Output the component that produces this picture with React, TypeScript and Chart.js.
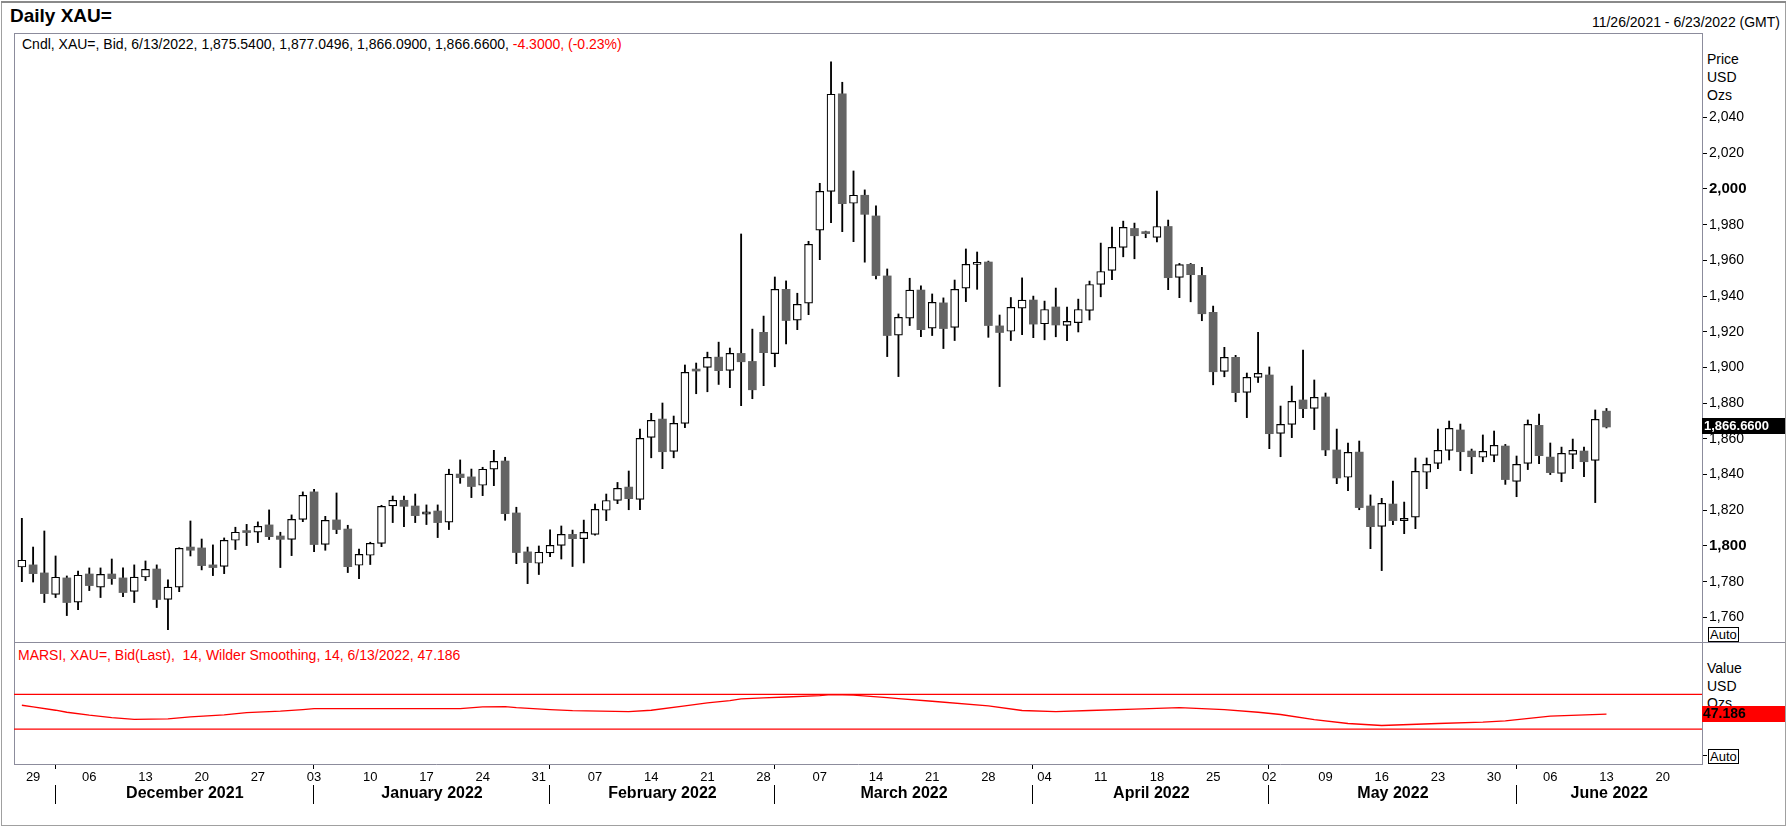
import React, { useEffect, useRef } from 'react';
import { Chart, registerables } from 'chart.js';

Chart.register(...registerables);

const FONT = "'Liberation Sans', Arial, sans-serif";
const AXIS_GRAY = '#8c8c9c';
const UP_FILL = '#ffffff';
const DOWN_FILL = '#646464';

// Daily XAU= candles, trading-day index 0 = 11/26/2021 ... 141 = 6/13/2022
const opens = [
  1788.2, 1789.4, 1784.9, 1772.9, 1782.1, 1768.5, 1784.3, 1776.9, 1784.3, 1782.1,
  1774.6, 1782.6, 1787.1, 1770.1, 1776.9, 1799.4, 1798.9, 1789.4, 1788.6, 1803.2,
  1808.2, 1807.7, 1811.8, 1805.6, 1803.7, 1814.9, 1830.3, 1800.9, 1814.6, 1809.5,
  1789.2, 1794.8, 1801.5, 1822.4, 1825.6, 1822.4, 1817.8, 1819.6, 1813.3, 1840.3,
  1838.7, 1834.0, 1843.0, 1847.6, 1818.5, 1796.7, 1790.3, 1796.1, 1800.3, 1806.5,
  1804.1, 1806.5, 1820.0, 1825.5, 1833.0, 1826.1, 1860.8, 1871.1, 1853.0, 1868.7,
  1898.2, 1900.1, 1905.8, 1898.4, 1907.9, 1903.4, 1919.7, 1907.8, 1943.8, 1926.5,
  1936.0, 1976.9, 1998.7, 2053.3, 1992.0, 1996.5, 1984.9, 1951.3, 1918.1, 1927.6,
  1943.4, 1922.0, 1936.2, 1922.5, 1944.4, 1957.8, 1959.1, 1923.3, 1920.3, 1933.2,
  1937.8, 1924.5, 1933.9, 1923.6, 1925.1, 1932.0, 1946.5, 1954.4, 1967.3, 1977.9,
  1975.4, 1972.9, 1979.0, 1950.5, 1957.8, 1951.6, 1930.9, 1897.8, 1905.7, 1886.0,
  1894.5, 1895.8, 1863.1, 1868.1, 1881.8, 1877.1, 1883.5, 1853.8, 1838.5, 1852.6,
  1822.4, 1811.0, 1823.5, 1814.2, 1816.1, 1841.3, 1846.3, 1853.6, 1865.0, 1853.2,
  1849.7, 1850.8, 1856.0, 1836.2, 1846.3, 1867.6, 1849.8, 1840.7, 1851.3, 1853.2,
  1848.0, 1875.54,
];
const highs = [
  1815.5, 1799.4, 1808.4, 1794.4, 1783.2, 1786.0, 1787.7, 1787.7, 1792.7, 1787.7,
  1789.4, 1791.6, 1789.4, 1781.0, 1799.0, 1814.0, 1803.9, 1800.6, 1804.5, 1810.5,
  1812.1, 1813.5, 1820.2, 1807.7, 1817.4, 1830.3, 1831.8, 1816.6, 1829.7, 1811.6,
  1798.3, 1802.1, 1822.8, 1828.0, 1828.0, 1829.1, 1823.0, 1823.0, 1843.0, 1848.2,
  1843.1, 1844.1, 1853.6, 1849.7, 1821.7, 1799.4, 1800.0, 1809.0, 1811.2, 1808.9,
  1814.5, 1823.5, 1829.1, 1835.6, 1842.0, 1865.5, 1874.3, 1880.1, 1872.8, 1901.4,
  1902.5, 1908.6, 1914.2, 1910.9, 1974.8, 1921.5, 1928.8, 1950.7, 1948.5, 1941.6,
  1970.7, 2003.2, 2071.2, 2059.8, 2010.1, 1999.5, 1990.5, 1955.2, 1930.0, 1950.0,
  1945.7, 1941.2, 1939.0, 1949.0, 1966.4, 1964.7, 1959.6, 1929.4, 1939.2, 1950.2,
  1940.0, 1937.2, 1944.5, 1933.9, 1938.3, 1948.4, 1969.7, 1978.7, 1982.0, 1980.9,
  1976.4, 1998.8, 1982.6, 1958.3, 1958.3, 1956.1, 1934.4, 1911.3, 1906.8, 1896.9,
  1919.7, 1900.3, 1878.4, 1889.6, 1909.8, 1893.0, 1885.7, 1865.5, 1857.7, 1858.8,
  1828.6, 1826.7, 1836.4, 1824.6, 1849.3, 1849.3, 1865.5, 1870.0, 1868.3, 1854.3,
  1862.2, 1864.4, 1856.9, 1850.4, 1870.6, 1873.9, 1857.7, 1855.4, 1859.9, 1855.4,
  1876.2, 1877.0496,
];
const lows = [
  1780.0, 1779.8, 1768.3, 1771.1, 1761.0, 1764.3, 1775.0, 1771.1, 1778.5, 1771.6,
  1768.3, 1780.6, 1765.5, 1753.1, 1774.4, 1794.4, 1786.6, 1783.4, 1784.5, 1798.0,
  1800.2, 1801.9, 1803.6, 1787.9, 1794.6, 1813.6, 1796.8, 1797.6, 1806.9, 1785.1,
  1781.7, 1789.6, 1799.6, 1813.1, 1810.8, 1813.1, 1812.0, 1804.7, 1809.2, 1835.1,
  1827.1, 1828.2, 1833.8, 1814.4, 1790.1, 1778.9, 1784.0, 1794.0, 1792.7, 1788.5,
  1790.5, 1806.0, 1814.2, 1823.7, 1820.3, 1820.3, 1849.4, 1843.3, 1849.4, 1866.3,
  1885.3, 1886.4, 1890.5, 1888.7, 1878.6, 1882.5, 1889.8, 1900.4, 1913.2, 1921.2,
  1929.6, 1960.4, 1981.2, 1976.1, 1970.5, 1959.0, 1949.6, 1906.1, 1894.9, 1923.5,
  1917.3, 1917.9, 1910.6, 1915.1, 1936.9, 1943.8, 1916.9, 1889.3, 1915.1, 1918.4,
  1916.7, 1915.5, 1917.2, 1915.0, 1919.9, 1926.6, 1939.6, 1949.2, 1962.0, 1960.9,
  1972.7, 1970.4, 1943.6, 1939.1, 1936.8, 1926.2, 1890.3, 1894.8, 1880.8, 1871.9,
  1891.6, 1854.5, 1850.0, 1860.7, 1871.9, 1865.2, 1850.6, 1834.9, 1831.0, 1820.3,
  1798.5, 1786.2, 1811.9, 1806.9, 1809.7, 1832.1, 1843.3, 1848.2, 1842.2, 1840.5,
  1847.2, 1847.2, 1834.5, 1827.6, 1842.8, 1846.1, 1840.0, 1836.0, 1843.3, 1838.8,
  1824.3, 1866.09,
];
const closes = [
  1792.0, 1784.5, 1773.3, 1782.5, 1768.3, 1783.6, 1777.8, 1784.1, 1781.7, 1773.9,
  1782.6, 1786.9, 1770.0, 1776.9, 1798.7, 1797.6, 1789.0, 1787.9, 1803.2, 1807.7,
  1807.5, 1811.0, 1805.2, 1803.7, 1814.9, 1828.4, 1800.8, 1814.4, 1809.2, 1788.4,
  1795.3, 1801.5, 1822.2, 1825.6, 1822.2, 1817.0, 1819.1, 1813.1, 1840.3, 1838.3,
  1833.3, 1843.0, 1847.4, 1818.1, 1796.3, 1790.7, 1796.5, 1800.4, 1806.5, 1804.1,
  1807.6, 1820.5, 1825.5, 1832.3, 1826.5, 1860.3, 1870.4, 1852.8, 1868.7, 1897.3,
  1898.0, 1905.7, 1898.2, 1907.9, 1903.2, 1887.5, 1908.3, 1943.8, 1926.3, 1935.4,
  1969.0, 1998.7, 2053.1, 1991.8, 1996.5, 1985.8, 1951.5, 1917.9, 1928.1, 1943.3,
  1921.2, 1936.5, 1921.8, 1943.8, 1957.8, 1958.2, 1923.5, 1919.6, 1933.7, 1937.8,
  1924.3, 1932.5, 1923.8, 1925.8, 1932.5, 1946.5, 1953.8, 1967.3, 1978.5, 1973.8,
  1975.0, 1979.0, 1950.3, 1957.6, 1952.0, 1930.1, 1897.6, 1905.7, 1885.9, 1894.5,
  1896.7, 1862.9, 1868.1, 1881.0, 1876.9, 1883.3, 1853.8, 1838.1, 1852.5, 1821.5,
  1810.8, 1823.9, 1814.2, 1815.5, 1841.8, 1845.7, 1853.6, 1865.9, 1852.8, 1850.0,
  1853.0, 1856.4, 1837.2, 1845.7, 1868.1, 1850.6, 1841.1, 1851.9, 1853.6, 1847.2,
  1870.96, 1866.66,
];

// MARSI(14, Wilder, 14): trading-day index -> value
const rsiIdx = [
  0, 1, 3, 4, 6, 8, 10, 13, 15, 18, 20, 23, 25, 26, 34, 39, 41, 43, 44, 47,
  49, 54, 56, 59, 61, 63, 64, 66, 68, 71, 72, 74, 77, 78, 81, 86, 89, 92, 95, 99,
  103, 107, 110, 112, 115, 118, 121, 126, 130, 132, 136, 141,
];
const rsiValues = [
  57.4, 55.5, 51.7, 49.4, 46.0, 43.3, 41.2, 41.8, 44.1, 46.4, 49.0, 50.6, 52.5, 53.6, 53.6, 53.6, 55.5, 55.8, 54.7, 52.5,
  51.3, 50.2, 51.7, 56.6, 60.1, 62.7, 64.7, 65.8, 66.9, 68.4, 69.6, 69.1, 66.2, 65.0, 62.0, 56.6, 51.4, 50.2, 51.4, 52.9,
  54.8, 52.5, 49.4, 46.8, 41.0, 36.5, 34.2, 36.5, 38.0, 39.5, 44.9, 47.186,
];
const rsiLevels = [70, 30];

const yTicks = [1760, 1780, 1800, 1820, 1840, 1860, 1880, 1900, 1920, 1940, 1960, 1980, 2000, 2020, 2040];
const weekTickIdx = [
  1, 6, 11, 16, 21, 26, 31, 36, 41, 46, 51, 56, 61, 66, 71, 76, 81, 86, 91, 96,
  101, 106, 111, 116, 121, 126, 131, 136, 141, 146,
];
const weekTickLabels = [
  '29', '06', '13', '20', '27', '03', '10', '17', '24', '31', '07', '14', '21', '28', '07', '14', '21', '28', '04', '11',
  '18', '25', '02', '09', '16', '23', '30', '06', '13', '20',
];
const monthStartIdx = [3, 26, 47, 67, 90, 111, 133];
const monthLabels = ['December 2021', 'January 2022', 'February 2022', 'March 2022', 'April 2022', 'May 2022', 'June 2022'];

const X_MIN = -0.7;
const X_MAX = 149.5;
const PRICE_MIN = 1746.2;
const PRICE_MAX = 2087.4;
const RSI_MIN = -10;
const RSI_MAX = 130;

function fmt(v: number, d = 0) {
  const s = v.toFixed(d);
  const parts = s.split('.');
  const i = parts[0].replace(/\B(?=(\d{3})+(?!\d))/g, ',');
  return parts[1] ? i + '.' + parts[1] : i;
}

const lastPricePlugin = {
  id: 'lastPrice',
  afterDraw(chart: any) {
    const { ctx, chartArea } = chart;
    const last = closes[closes.length - 1];
    const y = chart.scales.y.getPixelForValue(last);
    ctx.save();
    ctx.fillStyle = '#000000';
    ctx.fillRect(chartArea.right, Math.round(y) - 9, chart.width - 3 - chartArea.right, 16);
    ctx.fillStyle = '#ffffff';
    ctx.font = `bold 13px ${FONT}`;
    ctx.textAlign = 'left';
    ctx.textBaseline = 'middle';
    ctx.fillText(fmt(last, 4), chartArea.right + 2, Math.round(y) - 1);
    ctx.restore();
  },
};

const rsiDecorPlugin = {
  id: 'rsiDecor',
  afterDraw(chart: any) {
    const { ctx, chartArea } = chart;
    const xs = chart.scales.x;
    const ys = chart.scales.y;
    ctx.save();
    // last value box
    const last = rsiValues[rsiValues.length - 1];
    const y = ys.getPixelForValue(last);
    ctx.fillStyle = '#ff0000';
    ctx.fillRect(chartArea.right, Math.round(y) - 8, chart.width - 3 - chartArea.right, 16);
    ctx.fillStyle = '#000000';
    ctx.font = `bold 14px ${FONT}`;
    ctx.textAlign = 'left';
    ctx.textBaseline = 'middle';
    ctx.fillText(last.toFixed(3), chartArea.right + 1, Math.round(y) + 0.5);
    // month separators and labels
    ctx.strokeStyle = '#000000';
    ctx.lineWidth = 1;
    ctx.font = `bold 16px ${FONT}`;
    ctx.textAlign = 'center';
    ctx.textBaseline = 'middle';
    const bottom = chartArea.bottom;
    for (let i = 0; i < monthStartIdx.length; i++) {
      const px = Math.round(xs.getPixelForValue(monthStartIdx[i])) - 0.5;
      ctx.beginPath();
      ctx.moveTo(px, bottom + 1);
      ctx.lineTo(px, bottom + 5);
      ctx.moveTo(px, bottom + 21);
      ctx.lineTo(px, bottom + 40);
      ctx.stroke();
      const endIdx = i + 1 < monthStartIdx.length ? monthStartIdx[i + 1] : X_MAX;
      const cx = xs.getPixelForValue((monthStartIdx[i] + endIdx) / 2);
      ctx.fillStyle = '#000000';
      ctx.fillText(monthLabels[i], cx, bottom + 30);
    }
    ctx.restore();
  },
};

function Txt(props: { left?: number; right?: number; cy: number; children: any; style?: any }) {
  const { left, right, cy, children, style } = props;
  return (
    <div
      style={{
        position: 'absolute',
        left,
        right,
        top: cy - 8,
        height: 16,
        lineHeight: '16px',
        fontFamily: FONT,
        fontSize: 14,
        color: '#000',
        whiteSpace: 'nowrap',
        ...style,
      }}
    >
      {children}
    </div>
  );
}

export default function App() {
  const priceRef = useRef<HTMLCanvasElement>(null);
  const rsiRef = useRef<HTMLCanvasElement>(null);

  useEffect(() => {
    const up = closes.map((c, i) => c >= opens[i]);
    const priceChart = new Chart(priceRef.current as HTMLCanvasElement, {
      type: 'bar',
      data: {
        datasets: [
          {
            label: 'body',
            data: closes.map((c, i) => ({ x: i, y: [opens[i], c] })) as any,
            backgroundColor: up.map((u) => (u ? UP_FILL : DOWN_FILL)),
            borderColor: up.map((u) => (u ? '#000000' : DOWN_FILL)),
            borderWidth: up.map((u) => (u ? 1.2 : 0)),
            borderSkipped: false,
            barThickness: 8,
            grouped: false,
            minBarLength: 2,
          } as any,
          {
            label: 'wick',
            data: highs.map((h, i) => ({ x: i, y: [lows[i], h] })) as any,
            backgroundColor: '#000000',
            borderWidth: 0,
            barThickness: 1.2,
            grouped: false,
            minBarLength: 1,
          } as any,
        ],
      },
      options: {
        animation: false,
        responsive: false,
        maintainAspectRatio: false,
        events: [],
        layout: { padding: { left: 14, top: 33, right: 3, bottom: 8 } },
        plugins: { legend: { display: false }, tooltip: { enabled: false } },
        scales: {
          x: { type: 'linear', min: X_MIN, max: X_MAX, display: false, offset: false },
          y: {
            type: 'linear',
            position: 'right',
            min: PRICE_MIN,
            max: PRICE_MAX,
            afterBuildTicks: (s: any) => {
              s.ticks = yTicks.map((v) => ({ value: v }));
            },
            afterFit: (s: any) => {
              s.width = 83;
              s.paddingTop = 0;
              s.paddingBottom = 0;
            },
            ticks: {
              color: '#000',
              padding: 2,
              callback: (v: any) => fmt(Number(v)),
              font: (c: any) => {
                const major = c.tick && c.tick.value % 200 === 0;
                return { family: FONT, size: major ? 15 : 14, weight: major ? 'bold' : 'normal' };
              },
            },
            grid: { drawOnChartArea: false, drawTicks: true, tickLength: 5, color: '#000', lineWidth: 1 },
            border: { display: true, color: AXIS_GRAY, width: 1 },
          },
        },
      } as any,
      plugins: [lastPricePlugin],
    });

    const levelSets = rsiLevels.map((lv) => ({
      label: 'level' + lv,
      data: [
        { x: X_MIN, y: lv },
        { x: X_MAX, y: lv },
      ],
      borderColor: '#ff0000',
      borderWidth: 1.3,
      pointRadius: 0,
      fill: false,
    }));

    const rsiChart = new Chart(rsiRef.current as HTMLCanvasElement, {
      type: 'line',
      data: {
        datasets: [
          {
            label: 'MARSI',
            data: rsiIdx.map((x, i) => ({ x, y: rsiValues[i] })),
            borderColor: '#ff0000',
            borderWidth: 1.3,
            pointRadius: 0,
            tension: 0,
            fill: false,
          },
          ...levelSets,
        ],
      },
      options: {
        animation: false,
        responsive: false,
        maintainAspectRatio: false,
        events: [],
        layout: { padding: { left: 14, top: 0, right: 3, bottom: 0 } },
        plugins: { legend: { display: false }, tooltip: { enabled: false } },
        scales: {
          x: {
            type: 'linear',
            position: 'bottom',
            min: X_MIN,
            max: X_MAX,
            afterBuildTicks: (s: any) => {
              s.ticks = weekTickIdx.map((v) => ({ value: v }));
            },
            afterFit: (s: any) => {
              s.height = 63;
              s.paddingLeft = 0;
              s.paddingRight = 0;
            },
            ticks: {
              autoSkip: false,
              maxRotation: 0,
              minRotation: 0,
              padding: 6,
              color: '#000',
              font: { family: FONT, size: 13 },
              callback: (_v: any, i: number) => weekTickLabels[i],
            },
            grid: { display: false, drawOnChartArea: false, drawTicks: false },
            border: { display: true, color: AXIS_GRAY, width: 1 },
          },
          y: {
            type: 'linear',
            position: 'right',
            min: RSI_MIN,
            max: RSI_MAX,
            afterBuildTicks: (s: any) => {
              s.ticks = [{ value: 0 }];
            },
            afterFit: (s: any) => {
              s.width = 83;
              s.paddingTop = 0;
              s.paddingBottom = 0;
            },
            ticks: { callback: () => '', padding: 2 },
            grid: { drawOnChartArea: false, drawTicks: true, tickLength: 5, color: '#000', lineWidth: 1 },
            border: { display: true, color: AXIS_GRAY, width: 1 },
          },
        },
      } as any,
      plugins: [rsiDecorPlugin],
    });

    return () => {
      priceChart.destroy();
      rsiChart.destroy();
    };
  }, []);

  const autoBox = {
    border: '1px solid #000',
    height: 15,
    lineHeight: '13px',
    padding: '0 1px',
    boxSizing: 'border-box',
    fontSize: 13,
    fontFamily: FONT,
  };

  return (
    <div
      style={{
        position: 'fixed',
        left: 0,
        top: 0,
        width: 1788,
        height: 827,
        background: '#ffffff',
        overflow: 'hidden',
        fontFamily: FONT,
      }}
    >
      {/* window frame */}
      <div style={{ position: 'absolute', left: 1, top: 1, width: 1785, height: 825, border: '1px solid #a0a0a0', boxSizing: 'border-box' }} />
      <div style={{ position: 'absolute', left: 1, top: 1, width: 1785, height: 2, background: '#8a8a8a' }} />
      {/* panel lines */}
      <div style={{ position: 'absolute', left: 14, top: 33, width: 1688, height: 1, background: AXIS_GRAY }} />
      <div style={{ position: 'absolute', left: 14, top: 33, width: 1, height: 731, background: AXIS_GRAY }} />
      <div style={{ position: 'absolute', left: 14, top: 642, width: 1771, height: 1, background: AXIS_GRAY }} />

      <Txt left={10} cy={16} style={{ fontSize: 19, fontWeight: 'bold', height: 22, lineHeight: '22px', top: 5 }}>
        Daily XAU=
      </Txt>
      <Txt right={8} cy={22}>11/26/2021 - 6/23/2022 (GMT)</Txt>
      <Txt left={22} cy={43.5}>
        Cndl, XAU=, Bid, 6/13/2022, 1,875.5400, 1,877.0496, 1,866.0900, 1,866.6600,{' '}
        <span style={{ color: '#ff0000' }}>-4.3000, (-0.23%)</span>
      </Txt>
      <Txt left={1707} cy={58.5}>Price</Txt>
      <Txt left={1707} cy={77}>USD</Txt>
      <Txt left={1707} cy={95}>Ozs</Txt>
      <div style={{ position: 'absolute', left: 1708, top: 627, ...autoBox } as any}>Auto</div>

      <Txt left={18} cy={654.5} style={{ color: '#ff0000' }}>
        MARSI, XAU=, Bid(Last),&nbsp; 14, Wilder Smoothing, 14, 6/13/2022, 47.186
      </Txt>
      <Txt left={1707} cy={668}>Value</Txt>
      <Txt left={1707} cy={686}>USD</Txt>
      <Txt left={1707} cy={703}>Ozs</Txt>
      <div style={{ position: 'absolute', left: 1708, top: 749, ...autoBox } as any}>Auto</div>

      <canvas
        ref={priceRef}
        width={1788}
        height={650}
        style={{ position: 'absolute', left: 0, top: 0, width: 1788, height: 650 }}
      />
      <canvas
        ref={rsiRef}
        width={1788}
        height={185}
        style={{ position: 'absolute', left: 0, top: 642, width: 1788, height: 185 }}
      />
    </div>
  );
}
